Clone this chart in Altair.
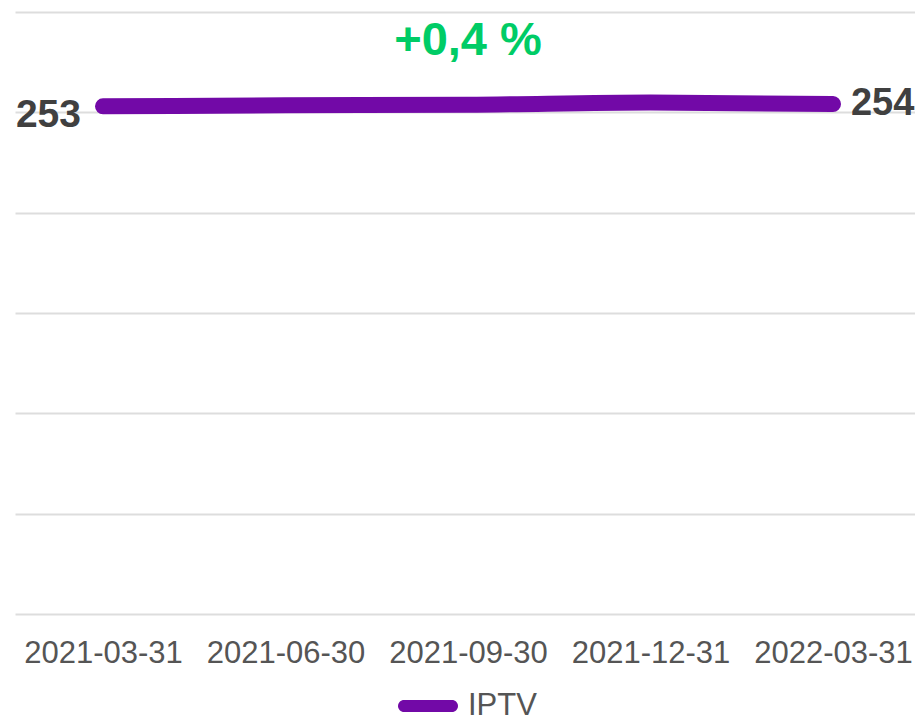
import altair as alt
import pandas as pd

dates = ["2021-03-31", "2021-06-30", "2021-09-30", "2021-12-31", "2022-03-31"]
values = [253.0, 253.5, 253.8, 254.9, 254.1]
series_name = "IPTV"
start_label = "253"
end_label = "254"
change_label = "+0,4 %"

df = pd.DataFrame({"date": dates, "value": values, "series": [series_name] * len(dates)})
df_start = pd.DataFrame({"date": [dates[0]], "value": [values[0]], "label": [start_label]})
df_end = pd.DataFrame({"date": [dates[-1]], "value": [values[-1]], "label": [end_label]})
df_change = pd.DataFrame({"date": [dates[2]], "value": [300], "label": [change_label]})

FONT = "Liberation Sans"
PURPLE = "#7209a7"
PILL = "M-0.8,-0.2 L0.8,-0.2 A0.2,0.2 0 0 1 0.8,0.2 L-0.8,0.2 A0.2,0.2 0 0 1 -0.8,-0.2 Z"

x_scale = alt.Scale(type="point", padding=0.4658, align=0.5176)
x_enc = alt.X("date:O", sort=dates, title=None, scale=x_scale,
              axis=alt.Axis(labelAngle=0, domain=False, ticks=False, grid=False,
                            labelFontSize=31, labelColor="#555555", labelFont=FONT,
                            labelPadding=24))
y_scale = alt.Scale(domain=[0, 300], nice=False)

line = alt.Chart(df).mark_line(strokeWidth=16, strokeCap="round", interpolate="monotone").encode(
    x=x_enc,
    y=alt.Y("value:Q", scale=y_scale, title=None,
            axis=alt.Axis(values=[0, 50, 100, 150, 200, 250, 300], labels=False, ticks=False,
                          domain=False, gridColor="#dddddd", gridWidth=2)),
    color=alt.Color("series:N", scale=alt.Scale(range=[PURPLE]),
                    legend=alt.Legend(title=None, orient="none", legendX=383, legendY=664,
                                      symbolType=PILL, symbolFillColor=PURPLE,
                                      symbolStrokeWidth=0, symbolOpacity=1,
                                      symbolSize=3600, labelOffset=10,
                                      labelFontSize=31, labelColor="#555555", labelFont=FONT)),
)

start_text = alt.Chart(df_start).mark_text(
    align="right", baseline="middle", dx=-22, dy=9, fontSize=39, fontWeight="bold",
    color="#404040", font=FONT).encode(
    x=alt.X("date:O", sort=dates, scale=x_scale), y=alt.Y("value:Q", scale=y_scale), text="label:N")

end_text = alt.Chart(df_end).mark_text(
    align="left", baseline="middle", dx=18, dy=0, fontSize=38, fontWeight="bold",
    color="#404040", font=FONT).encode(
    x=alt.X("date:O", sort=dates, scale=x_scale), y=alt.Y("value:Q", scale=y_scale), text="label:N")

change_text = alt.Chart(df_change).mark_text(
    align="center", baseline="middle", dy=29, fontSize=47, fontWeight="bold",
    color="#00cc66", font=FONT).encode(
    x=alt.X("date:O", sort=dates, scale=x_scale), y=alt.Y("value:Q", scale=y_scale), text="label:N")

chart = alt.layer(line, start_text, end_text, change_text).properties(
    width=900, height=602,
    autosize=alt.AutoSizeParams(type="none"),
    padding={"left": 7, "top": 4, "right": 0, "bottom": 107},
).configure_view(stroke=None)

chart.save("out.html", embed_options={"renderer": "svg", "actions": False})
